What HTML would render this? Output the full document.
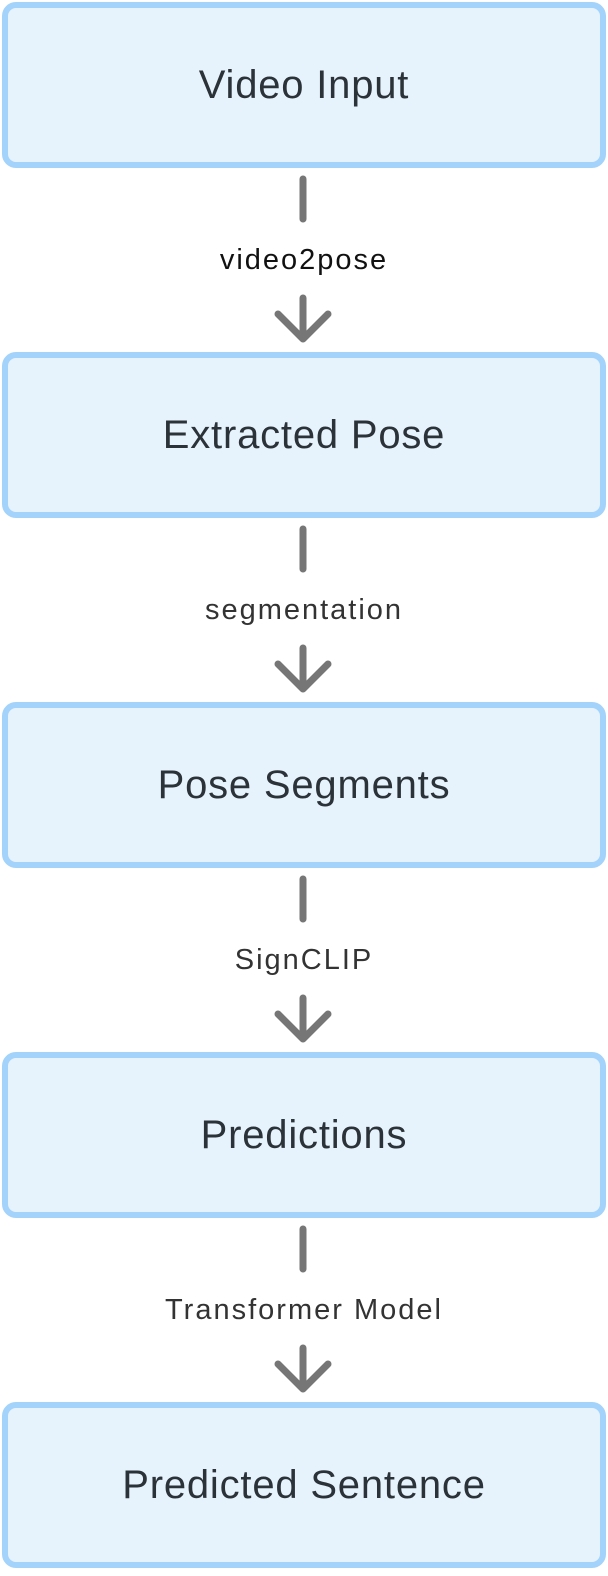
<!DOCTYPE html>
<html><head><style>
body{margin:0;width:608px;height:1576px;background:#fff;position:relative;font-family:"Liberation Sans",sans-serif;overflow:hidden}
.box{position:absolute;left:2px;width:592px;height:154px;border:6px solid #a3d2fb;border-radius:14px;background:#e6f3fd;display:flex;align-items:center;justify-content:center;font-size:40px;letter-spacing:0.8px;color:#2b3238}
.lbl{position:absolute;left:0;width:608px;text-align:center;font-size:29px;letter-spacing:2px;color:#333;line-height:34px}
</style></head><body>
<div class="box" style="top:2px">Video Input</div>
<div class="box" style="top:352px">Extracted Pose</div>
<div class="box" style="top:702px">Pose Segments</div>
<div class="box" style="top:1052px">Predictions</div>
<div class="box" style="top:1402px">Predicted Sentence</div>
<svg width="608" height="1576" style="position:absolute;left:0;top:0">
<g stroke="#767676" stroke-width="7" stroke-linecap="round" stroke-linejoin="round" fill="none">
<path d="M303 179V219M303 298V339M278 314L303 339L328 314"/>
<path d="M303 529V569M303 648V689M278 664L303 689L328 664"/>
<path d="M303 879V919M303 998V1039M278 1014L303 1039L328 1014"/>
<path d="M303 1229V1269M303 1348V1389M278 1364L303 1389L328 1364"/>
</g></svg>
<div class="lbl" style="top:243px;color:#111">video2pose</div>
<div class="lbl" style="top:593px">segmentation</div>
<div class="lbl" style="top:943px">SignCLIP</div>
<div class="lbl" style="top:1293px">Transformer Model</div>
</body></html>
